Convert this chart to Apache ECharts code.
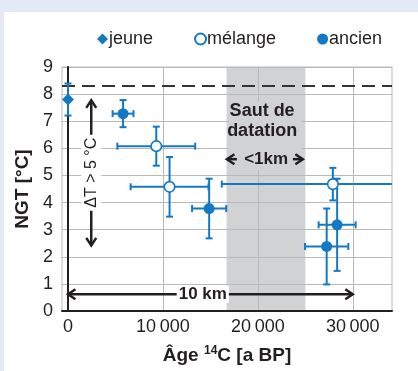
<!DOCTYPE html>
<html><head><meta charset="utf-8">
<script src="https://cdn.jsdelivr.net/npm/echarts@6/dist/echarts.min.js"></script>
<style>
html,body{margin:0;padding:0;background:#e3eaf6;}
#wrap{position:absolute;left:4px;top:12px;width:414px;height:359px;background:#fff;}
#c{position:absolute;left:0;top:0;width:418px;height:371px;}
</style></head><body>
<div id="wrap"></div><div id="c"></div>
<script>
// ---- data ----
const jeuneX = [0];
const jeuneY = [7.8];
const jeuneXErr = [0];
const jeuneYErr = [0.59];

const melangeX = [9300, 10700, 27900];
const melangeY = [6.08, 4.58, 4.68];
const melangeXErr = [4100, 4100, 11700];
const melangeYErr = [0.72, 1.1, 0.6];

const ancienX = [5800, 14870, 27250, 28350];
const ancienY = [7.28, 3.78, 2.38, 3.18];
const ancienXErr = [1100, 1800, 2280, 1950];
const ancienYErr = [0.5, 1.1, 1.4, 1.7];

const xTicks = [0, 10000, 20000, 30000];
const refTemp = 8.3;          // dashed line
const gapBand = [16700, 25000]; // "Saut de datation"

const FONT = '"Liberation Sans", Arial, Helvetica, sans-serif';
const BLUE = '#1479c4';
const INK = '#231f20';
const BAND = '#d1d2d4';
const GRID = '#b9b9b9';
const XMIN = -630, XMAX = 34130;

function zip(xs, ys, exs, eys) { return xs.map((x, i) => [x, ys[i], exs[i], eys[i]]); }

function errRender(params, api) {
  const x = api.value(0), y = api.value(1), ex = api.value(2), ey = api.value(3);
  const c = api.coord([x, y]);
  const st = { stroke: BLUE, lineWidth: 2 };
  const cap = 3.5;
  const ch = [];
  if (ey > 0) {
    const t = api.coord([x, y + ey]), b = api.coord([x, y - ey]);
    ch.push({ type: 'line', shape: { x1: c[0], y1: t[1], x2: c[0], y2: b[1] }, style: st });
    ch.push({ type: 'line', shape: { x1: c[0] - cap, y1: t[1], x2: c[0] + cap, y2: t[1] }, style: st });
    ch.push({ type: 'line', shape: { x1: c[0] - cap, y1: b[1], x2: c[0] + cap, y2: b[1] }, style: st });
  }
  if (ex > 0) {
    const l = api.coord([x - ex, y]), r = api.coord([x + ex, y]);
    ch.push({ type: 'line', shape: { x1: l[0], y1: c[1], x2: r[0], y2: c[1] }, style: st });
    ch.push({ type: 'line', shape: { x1: l[0], y1: c[1] - cap, x2: l[0], y2: c[1] + cap }, style: st });
    ch.push({ type: 'line', shape: { x1: r[0], y1: c[1] - cap, x2: r[0], y2: c[1] + cap }, style: st });
  }
  return { type: 'group', children: ch };
}

function bandRender(params, api) {
  const a = api.coord([gapBand[0], 9]), b = api.coord([gapBand[1], 0]);
  const ch = [{ type: 'rect', shape: { x: a[0], y: a[1], width: b[0] - a[0], height: b[1] - a[1] }, style: { fill: BAND } }];
  xTicks.forEach(v => {
    const t = api.coord([v, 9]), bb = api.coord([v, 0]);
    ch.push({ type: 'line', shape: { x1: Math.round(t[0]) + 0.5, y1: t[1], x2: Math.round(t[0]) + 0.5, y2: bb[1] }, style: { stroke: GRID, lineWidth: 1 } });
  });
  return { type: 'group', children: ch };
}

function head(tx, ty, dx, dy) {
  const L = 7.5, W = 5;
  const px = -dy, py = dx;
  return { type: 'polyline', shape: { points: [[tx - dx * L + px * W, ty - dy * L + py * W], [tx, ty], [tx - dx * L - px * W, ty - dy * L - py * W]] },
    style: { stroke: INK, lineWidth: 2.5, fill: null } };
}

function annRender(params, api) {
  const ch = [];
  const d0 = api.coord([XMIN, refTemp]), d1 = api.coord([XMAX, refTemp]);
  ch.push({ type: 'line', shape: { x1: d0[0], y1: d0[1], x2: d1[0], y2: d1[1] }, style: { stroke: '#333', lineWidth: 2, lineDash: [13, 7] } });
  const h0 = api.coord([0, 0.62]), h1 = api.coord([30000, 0.62]);
  ch.push({ type: 'line', shape: { x1: h0[0], y1: h0[1], x2: h1[0], y2: h1[1] }, style: { stroke: INK, lineWidth: 2.5 } });
  ch.push(head(h0[0], h0[1], -1, 0));
  ch.push(head(h1[0], h1[1], 1, 0));
  const ht = api.coord([14200, 0.62]);
  ch.push({ type: 'text', x: ht[0], y: ht[1], style: { text: '10 km', font: 'bold 17px ' + FONT, fill: INK, align: 'center', verticalAlign: 'middle', backgroundColor: '#fff', padding: [0, 2] } });
  const v0 = api.coord([2450, 7.77]), v1 = api.coord([2450, 2.42]);
  ch.push({ type: 'line', shape: { x1: v0[0], y1: v0[1], x2: v1[0], y2: v1[1] }, style: { stroke: INK, lineWidth: 2.5 } });
  ch.push(head(v0[0], v0[1], 0, -1));
  ch.push(head(v1[0], v1[1], 0, 1));
  const vt = api.coord([2450, 5.1]);
  ch.push({ type: 'text', x: vt[0], y: vt[1], rotation: Math.PI / 2, style: { text: '\u0394T > 5 \u00b0C', font: '16px ' + FONT, fill: INK, align: 'center', verticalAlign: 'middle', backgroundColor: '#fff', padding: [2, 3] } });
  const r0 = api.coord([16950, 7.75]), r1 = api.coord([24650, 5.2]);
  ch.push({ type: 'rect', shape: { x: r0[0], y: r0[1], width: r1[0] - r0[0], height: r1[1] - r0[1] }, style: { fill: BAND } });
  const s1 = api.coord([20450, 7.38]), s2 = api.coord([20450, 6.62]), s3 = api.coord([20870, 5.6]);
  ch.push({ type: 'text', x: s1[0], y: s1[1], style: { text: 'Saut de', font: 'bold 18px ' + FONT, fill: INK, align: 'center', verticalAlign: 'middle' } });
  ch.push({ type: 'text', x: s2[0], y: s2[1], style: { text: 'datation', font: 'bold 18px ' + FONT, fill: INK, align: 'center', verticalAlign: 'middle' } });
  ch.push({ type: 'text', x: s3[0], y: s3[1], style: { text: '<1km', font: 'bold 17px ' + FONT, fill: INK, align: 'center', verticalAlign: 'middle' } });
  const a0 = api.coord([16740, 5.6]), a1 = api.coord([24740, 5.6]);
  ch.push({ type: 'line', shape: { x1: a0[0], y1: a0[1], x2: a0[0] + 10, y2: a0[1] }, style: { stroke: INK, lineWidth: 2.5 } });
  ch.push(head(a0[0], a0[1], -1, 0));
  ch.push({ type: 'line', shape: { x1: a1[0] - 10, y1: a1[1], x2: a1[0], y2: a1[1] }, style: { stroke: INK, lineWidth: 2.5 } });
  ch.push(head(a1[0], a1[1], 1, 0));
  return { type: 'group', children: ch };
}

const chart = echarts.init(document.getElementById('c'), null, { renderer: 'canvas' });
chart.setOption({
  backgroundColor: 'transparent',
  textStyle: { fontFamily: FONT },
  animation: false,
  legend: {
    data: [{ name: 'jeune' }, { name: 'mélange' }, { name: 'ancien' }],
    left: 92, top: 25, itemWidth: 11, itemHeight: 11, itemGap: 41,
    textStyle: { fontSize: 18, color: INK, fontFamily: FONT, padding: [0, 0, 0, -4] }
  },
  grid: { left: 62, right: 26, top: 67, bottom: 60, show: true, borderColor: GRID, borderWidth: 1, containLabel: false },
  xAxis: {
    type: 'value', min: XMIN, max: XMAX, z: 1,
    splitLine: { show: false },
    axisLine: { show: true, onZero: false, lineStyle: { color: INK, width: 2 } },
    axisTick: { show: false },
    axisLabel: { customValues: xTicks, fontSize: 18, color: INK, margin: 7, fontFamily: FONT,
      formatter: v => v === 0 ? '0' : String(v).replace(/(\d+)(\d{3})$/, '$1\u2009$2') },
    name: '{b|\u00c2ge }{s|14}{b|C [a BP]}', nameLocation: 'middle', nameGap: 34,
    nameTextStyle: { rich: { b: { fontSize: 19, fontWeight: 'bold', color: INK, fontFamily: FONT, lineHeight: 22 }, s: { fontSize: 12, fontWeight: 'bold', color: INK, fontFamily: FONT, verticalAlign: 'top', lineHeight: 22 } } }
  },
  yAxis: {
    type: 'value', min: 0, max: 9, interval: 1, z: 1,
    splitLine: { show: true, lineStyle: { color: GRID, width: 1 } },
    axisLine: { show: true, lineStyle: { color: INK, width: 2 } },
    axisTick: { show: false },
    axisLabel: { fontSize: 18, color: INK, margin: 9, fontFamily: FONT },
    name: 'NGT [\u00b0C]', nameLocation: 'middle', nameGap: 30,
    nameTextStyle: { fontSize: 19, fontWeight: 'bold', color: INK, fontFamily: FONT }
  },
  series: [
    { type: 'custom', name: 'band', z: 0, silent: true, renderItem: bandRender, data: [[0, 0]], encode: { x: 0, y: 1 }, clip: true },
    { type: 'custom', name: 'ann', z: 3, silent: true, renderItem: annRender, data: [[0, 0]], encode: { x: 0, y: 1 }, clip: false },
    { type: 'custom', name: 'errJ', z: 4, renderItem: errRender, data: zip(jeuneX, jeuneY, jeuneXErr, jeuneYErr), encode: { x: 0, y: 1 }, clip: true },
    { type: 'custom', name: 'errM', z: 4, renderItem: errRender, data: zip(melangeX, melangeY, melangeXErr, melangeYErr), encode: { x: 0, y: 1 }, clip: true },
    { type: 'custom', name: 'errA', z: 4, renderItem: errRender, data: zip(ancienX, ancienY, ancienXErr, ancienYErr), encode: { x: 0, y: 1 }, clip: true },
    { type: 'scatter', name: 'jeune', z: 5, symbol: 'diamond', symbolSize: 12, itemStyle: { color: BLUE, opacity: 1 }, data: jeuneX.map((x, i) => [x, jeuneY[i]]), clip: false },
    { type: 'scatter', name: 'mélange', z: 5, symbol: 'circle', symbolSize: 10.5, itemStyle: { color: '#fff', borderColor: BLUE, borderWidth: 1.6, opacity: 1 }, data: melangeX.map((x, i) => [x, melangeY[i]]) },
    { type: 'scatter', name: 'ancien', z: 5, symbol: 'circle', symbolSize: 11, itemStyle: { color: BLUE, opacity: 1 }, data: ancienX.map((x, i) => [x, ancienY[i]]) }
  ]
});
</script>
</body></html>
